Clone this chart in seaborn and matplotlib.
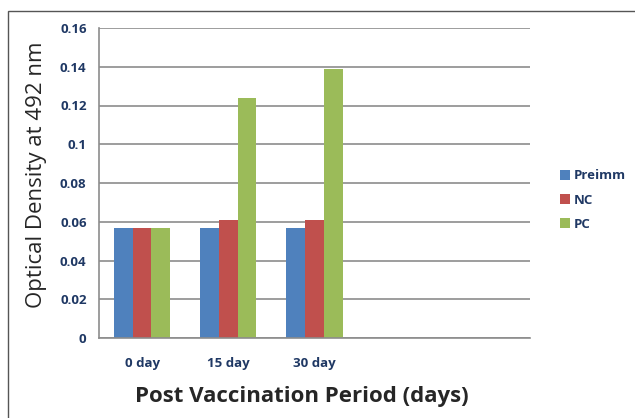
import matplotlib
matplotlib.use("Agg")
import matplotlib.pyplot as plt
import seaborn as sns
import pandas as pd
import numpy as np
from matplotlib.patches import Rectangle

categories = ["0 day", "15 day", "30 day"]
empty_slots = ["", " "]
series = ["Preimm", "NC", "PC"]
preimm = [0.057, 0.057, 0.057]
nc = [0.057, 0.061, 0.061]
pc = [0.057, 0.124, 0.139]
colors = ["#4F81BD", "#C0504D", "#9BBB59"]
yticks = [0, 0.02, 0.04, 0.06, 0.08, 0.1, 0.12, 0.14, 0.16]
ytick_labels = ["0", "0.02", "0.04", "0.06", "0.08", "0.1", "0.12", "0.14", "0.16"]

rows = []
for s, vals in zip(series, [preimm, nc, pc]):
    for c, v in zip(categories, vals):
        rows.append({"Period": c, "Group": s, "OD": v})
df = pd.DataFrame(rows)

sns.set_style("white")
plt.rcParams['font.family'] = ['Open Sans', 'DejaVu Sans']

fig = plt.figure(figsize=(6.35, 4.18), dpi=100)
ax = fig.add_axes([99/635, 1-338/418, (530-99)/635, (338-28)/418])

sns.barplot(data=df, x="Period", y="OD", hue="Group", order=categories + empty_slots,
            hue_order=series, palette=colors, width=0.65, saturation=1,
            linewidth=0, ax=ax, legend=True)
ax.set_xlim(-0.5, 4.5)
ax.set_ylim(0, 0.16)
ax.set_yticks(yticks)
ax.set_yticklabels(ytick_labels)
ax.yaxis.grid(True, color="#8C8C8C", linewidth=1.2)
ax.set_axisbelow(True)
for sp in ["top", "right"]:
    ax.spines[sp].set_visible(False)
for sp in ["left", "bottom"]:
    ax.spines[sp].set_color("#8C8C8C")
    ax.spines[sp].set_linewidth(1.2)

ax.set_xticks(range(5))
ax.set_xticklabels(categories + empty_slots)
ax.set_xticks(np.arange(-0.5, 5.0, 1.0), minor=True)
ax.tick_params(axis="x", which="major", length=0, pad=14)
ax.tick_params(axis="x", which="minor", length=5, color="#8C8C8C", width=1.2, direction="out")
ax.tick_params(axis="y", length=5, color="#8C8C8C", width=1.2, direction="out", pad=4)
for lab in ax.get_xticklabels() + ax.get_yticklabels():
    lab.set_fontweight("bold")
    lab.set_fontsize(9.5)
    lab.set_color("#1F3864")

ax.set_xlabel("Post Vaccination Period (days)", fontsize=16, fontweight="bold")
ax.set_ylabel("Optical Density at 492 nm", fontsize=16, fontweight="medium")
ax.xaxis.set_label_coords(0.47, -0.155)
ax.yaxis.set_label_coords(-0.12, 0.525)

handles, labels = ax.get_legend_handles_labels()
ax.legend(handles, labels, loc="center left", bbox_to_anchor=(548/635, 1-200/418),
          bbox_transform=fig.transFigure, frameon=False, handlelength=0.75, handleheight=0.75,
          handletextpad=0.3, labelspacing=0.85, prop={"weight": "bold", "size": 9.5})
for t in ax.get_legend().get_texts():
    t.set_color("#1F3864")

fig.patches.append(Rectangle((8/635, -0.1), 1.2, 1 - 11/418 + 0.1, transform=fig.transFigure,
                             fill=False, edgecolor="#555555", linewidth=1.0))
fig.savefig("out.png", dpi=100)
